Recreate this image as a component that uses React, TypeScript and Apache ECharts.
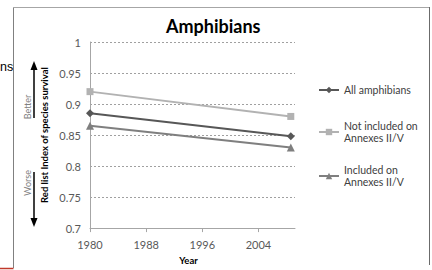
import React, { useEffect, useRef } from "react";
import * as echarts from "echarts";

const years = [1980, 2008.6];
const allAmphibians = [0.885, 0.848];
const notIncluded = [0.92, 0.88];
const included = [0.865, 0.83];
const seriesNames = ["All amphibians", "Not included on\nAnnexes II/V", "Included on\nAnnexes II/V"];
const xTickYears = [1980, 1988, 1996, 2004];
const chartTitle = "Amphibians";
const yAxisTitle = "Red list Index of species survival";
const xAxisTitle = "Year";

const FONT = "Lato, 'Open Sans', sans-serif";

function toPairs(vals: number[]) {
  return years.map((y, i) => [y, vals[i]]);
}

export default function App() {
  const ref = useRef<HTMLDivElement>(null);
  useEffect(() => {
    if (!ref.current) return;
    const chart = echarts.init(ref.current, undefined, { renderer: "svg" });
    const legendCommon = {
      orient: "vertical" as const,
      left: 318,
      padding: 0,
      itemWidth: 20,
      itemHeight: 8,
      selectedMode: false,
      textStyle: { fontFamily: FONT, fontSize: 10.5, color: "#404040", lineHeight: 12 },
    };
    const seriesStyle = [
      { color: "#575757", symbol: "diamond", symbolSize: 8 },
      { color: "#b2b2b2", symbol: "rect", symbolSize: 7 },
      { color: "#7f7f7f", symbol: "triangle", symbolSize: 8 },
    ];
    const datasets = [allAmphibians, notIncluded, included];
    chart.setOption({
      animation: false,
      backgroundColor: "#ffffff",
      title: {
        text: chartTitle,
        left: 166,
        top: 17,
        padding: 0,
        textStyle: { fontFamily: FONT, fontWeight: "bold", fontSize: 18, color: "#000" },
      },
      grid: { left: 90, top: 42, width: 205, height: 200 },
      legend: [
        { ...legendCommon, top: 84, data: [seriesNames[0]] },
        { ...legendCommon, top: 114, data: [{ name: seriesNames[1], textStyle: { padding: [12, 0, 0, 0] } }] },
        { ...legendCommon, top: 158, data: [{ name: seriesNames[2], textStyle: { padding: [12, 0, 0, 0] } }] },
      ],
      xAxis: {
        type: "value",
        min: 1980,
        max: 2009.2,
        name: xAxisTitle,
        nameLocation: "middle",
        nameGap: 22,
        nameTextStyle: { fontFamily: FONT, fontWeight: "bold", fontSize: 9.5, color: "#000", padding: [0, 8, 0, 0] },
        axisLine: { show: true, lineStyle: { color: "#a6a6a6", width: 1 } },
        axisTick: { show: true, length: 4, lineStyle: { color: "#a6a6a6" }, customValues: xTickYears },
        axisLabel: {
          fontFamily: FONT, fontSize: 11, color: "#595959", margin: 11, customValues: xTickYears,
          formatter: (v: number) => String(v),
        },
        splitLine: { show: false },
      },
      yAxis: {
        type: "value",
        min: 0.7,
        max: 1,
        interval: 0.05,
        name: yAxisTitle,
        nameLocation: "middle",
        nameRotate: 90,
        nameGap: 41,
        nameTextStyle: { fontFamily: FONT, fontWeight: "bold", fontSize: 9.5, color: "#000" },
        axisLine: { show: true, lineStyle: { color: "#a6a6a6", width: 1 } },
        axisTick: { show: false },
        axisLabel: { fontFamily: FONT, fontSize: 11, color: "#595959", margin: 9 },
        splitLine: { show: true, lineStyle: { color: "#a0a0a0", type: [2, 2], width: 1 } },
      },
      series: datasets.map((d, i) => ({
        name: seriesNames[i],
        type: "line",
        data: toPairs(d),
        symbol: seriesStyle[i].symbol,
        symbolSize: seriesStyle[i].symbolSize,
        showAllSymbol: true,
        itemStyle: { color: seriesStyle[i].color },
        lineStyle: { color: seriesStyle[i].color, width: 2 },
        z: 3 - i,
      })),
      graphic: [
        { type: "line", shape: { x1: 13.5, y1: 7, x2: 13.5, y2: 268 }, style: { stroke: "#808080", lineWidth: 1 } },
        { type: "line", shape: { x1: 13, y1: 7.5, x2: 430, y2: 7.5 }, style: { stroke: "#a6a6a6", lineWidth: 1 } },
        { type: "line", shape: { x1: 429.5, y1: 7, x2: 429.5, y2: 265 }, style: { stroke: "#6b6b6b", lineWidth: 1 } },
        { type: "line", shape: { x1: 0, y1: 268.5, x2: 13.5, y2: 268.5 }, style: { stroke: "#c0392b", lineWidth: 1.5 } },
        {
          type: "text", x: 0, y: 67,
          style: { text: "ns", fill: "#000", font: "12.5px 'Liberation Sans', Arial, sans-serif", textAlign: "left", textVerticalAlign: "middle" },
        },
        { type: "line", shape: { x1: 34, y1: 118, x2: 34, y2: 68 }, style: { stroke: "#000", lineWidth: 1.5 } },
        { type: "polygon", shape: { points: [[30.5, 70], [34, 61], [37.5, 70]] }, style: { fill: "#000" } },
        { type: "line", shape: { x1: 34, y1: 172, x2: 34, y2: 220 }, style: { stroke: "#000", lineWidth: 1.5 } },
        { type: "polygon", shape: { points: [[30.5, 218], [34, 227], [37.5, 218]] }, style: { fill: "#000" } },
        {
          type: "text", x: 27, y: 107, rotation: Math.PI / 2,
          style: { text: "Better", fill: "#808080", font: `9px ${FONT}`, textAlign: "center", textVerticalAlign: "middle" },
        },
        {
          type: "text", x: 27, y: 183, rotation: Math.PI / 2,
          style: { text: "Worse", fill: "#808080", font: `9px ${FONT}`, textAlign: "center", textVerticalAlign: "middle" },
        },
      ],
    });
    return () => chart.dispose();
  }, []);
  return <div ref={ref} style={{ position: "fixed", left: 0, top: 0, width: 432, height: 270 }} />;
}
